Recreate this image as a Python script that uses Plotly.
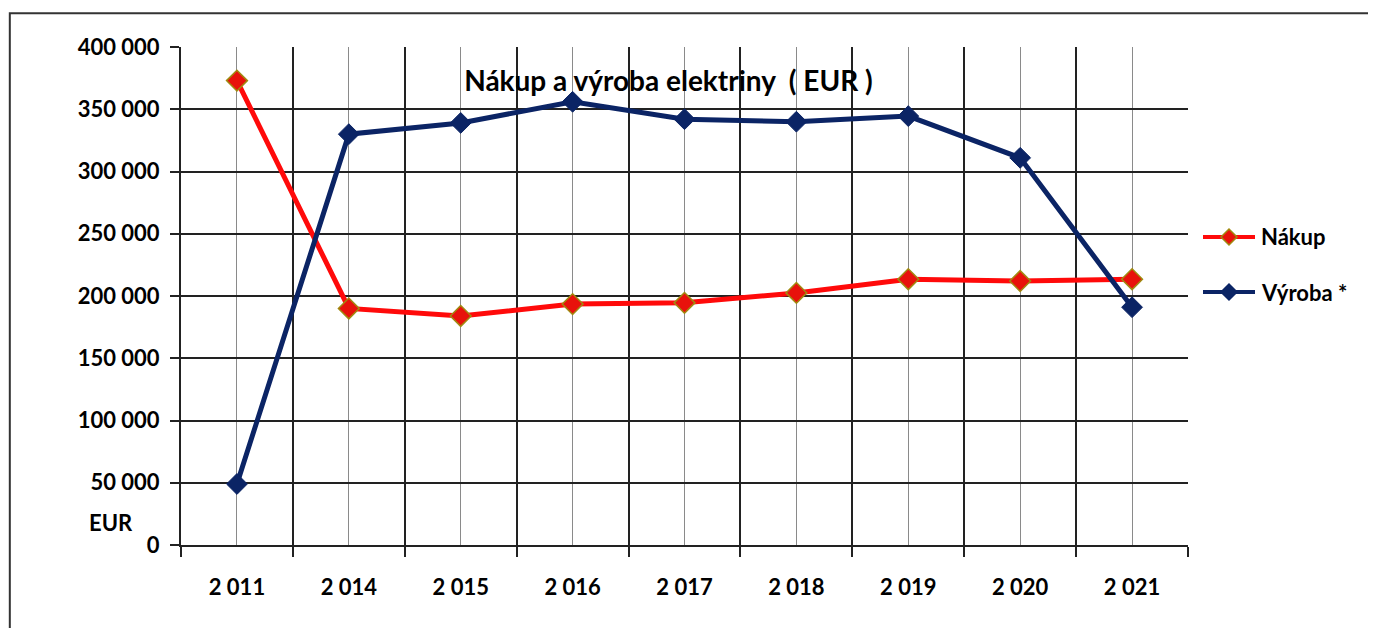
import plotly.graph_objects as go

years = ["2 011", "2 014", "2 015", "2 016", "2 017", "2 018", "2 019", "2 020", "2 021"]
nakup = [373000, 190000, 184000, 193500, 194500, 202500, 213500, 212000, 213500]
vyroba = [49000, 330000, 339000, 356000, 342000, 340000, 344500, 311000, 191000]
y_ticks = [0, 50000, 100000, 150000, 200000, 250000, 300000, 350000, 400000]
y_tick_text = ["0", "50 000", "100 000", "150 000", "200 000", "250 000", "300 000", "350 000", "400 000"]
series_names = ["Nákup", "Výroba *"]

xpos = list(range(len(years)))
FONT = "Lato"
RED = "#ff0a0a"
RED_FILL = "#e8120c"
RED_EDGE = "#a08a10"
NAVY = "#0b2465"

fig = go.Figure()
fig.add_trace(go.Scatter(
    x=xpos, y=nakup, name=series_names[0], mode="lines+markers",
    line=dict(color=RED, width=5),
    marker=dict(symbol="diamond", size=16, color=RED_FILL, line=dict(color=RED_EDGE, width=1.5)),
))
fig.add_trace(go.Scatter(
    x=xpos, y=vyroba, name=series_names[1], mode="lines+markers",
    line=dict(color=NAVY, width=5),
    marker=dict(symbol="diamond", size=16, color=NAVY, line=dict(color=NAVY, width=1)),
))

PW, PH = 1007.0, 498.0  # plot area size in px
fig.update_layout(
    width=1376, height=628,
    margin=dict(l=173, r=196, t=39, b=91),
    paper_bgcolor="white", plot_bgcolor="white",
    font=dict(family=FONT, color="black", size=22),
    showlegend=False,
    title=dict(text="<b>Nákup a výroba elektriny  ( EUR )</b>", x=0.48, xanchor="center",
               y=0.932, yanchor="middle", yref="paper",
               font=dict(family=FONT, size=28, color="black")),
)

fig.update_xaxes(
    range=[-0.5, len(years) - 0.5],
    tickvals=xpos, ticktext=[f"<b>{t}</b>" for t in years],
    tickfont=dict(family=FONT, size=22, color="black"),
    showgrid=True, gridcolor="#8a8a8a", gridwidth=1,
    ticks="", ticklabelstandoff=22,
    minor=dict(tickvals=[i - 0.5 for i in range(len(years) + 1)], showgrid=True,
               gridcolor="#222222", gridwidth=1.5, ticks="outside", ticklen=10,
               tickcolor="#222222", tickwidth=1.5),
    showline=True, linecolor="#222222", linewidth=2,
    zeroline=False, fixedrange=True,
)
fig.update_yaxes(
    range=[0, 400000],
    tickvals=y_ticks, ticktext=[f"<b>{t}</b>" for t in y_tick_text],
    tickfont=dict(family=FONT, size=22, color="black"),
    showgrid=True, gridcolor="#222222", gridwidth=1.5,
    ticks="outside", ticklen=9, tickcolor="#222222", tickwidth=1.5,
    ticklabelstandoff=6,
    showline=True, linecolor="#222222", linewidth=2,
    zeroline=False, fixedrange=True,
)

fig.add_annotation(text="<b>EUR</b>", xref="paper", yref="paper",
                   x=-0.07, y=0.045, xanchor="center", yanchor="middle",
                   showarrow=False, font=dict(family=FONT, size=22, color="black"))

# manual Excel-style legend
leg_items = [(series_names[0], 237, RED, RED_FILL, RED_EDGE),
             (series_names[1], 292, NAVY, NAVY, NAVY)]
for name, ypx, lcol, fcol, ecol in leg_items:
    yy = (545 - ypx) / PH
    x0 = (1203 - 181) / PW
    x1 = (1255 - 181) / PW
    xc = (1229 - 181) / PW
    dx, dy = 8 / PW, 8 / PH
    fig.add_shape(type="line", xref="paper", yref="paper",
                  x0=x0, x1=x1, y0=yy, y1=yy, line=dict(color=lcol, width=4))
    fig.add_shape(type="path", xref="paper", yref="paper",
                  path=f"M {xc-dx} {yy} L {xc} {yy+dy} L {xc+dx} {yy} L {xc} {yy-dy} Z",
                  fillcolor=fcol, line=dict(color=ecol, width=1.5))
    fig.add_annotation(text=f"<b>{name}</b>", xref="paper", yref="paper",
                       x=(1259 - 181) / PW, y=yy, xanchor="left", yanchor="middle",
                       showarrow=False, font=dict(family=FONT, size=22, color="black"))

# outer frame
fig.add_shape(type="rect", xref="paper", yref="paper",
              x0=-0.170, x1=1.25, y0=-0.3, y1=1.068,
              line=dict(color="#333333", width=2), fillcolor="rgba(0,0,0,0)", layer="below")

fig.write_html("out.html")
